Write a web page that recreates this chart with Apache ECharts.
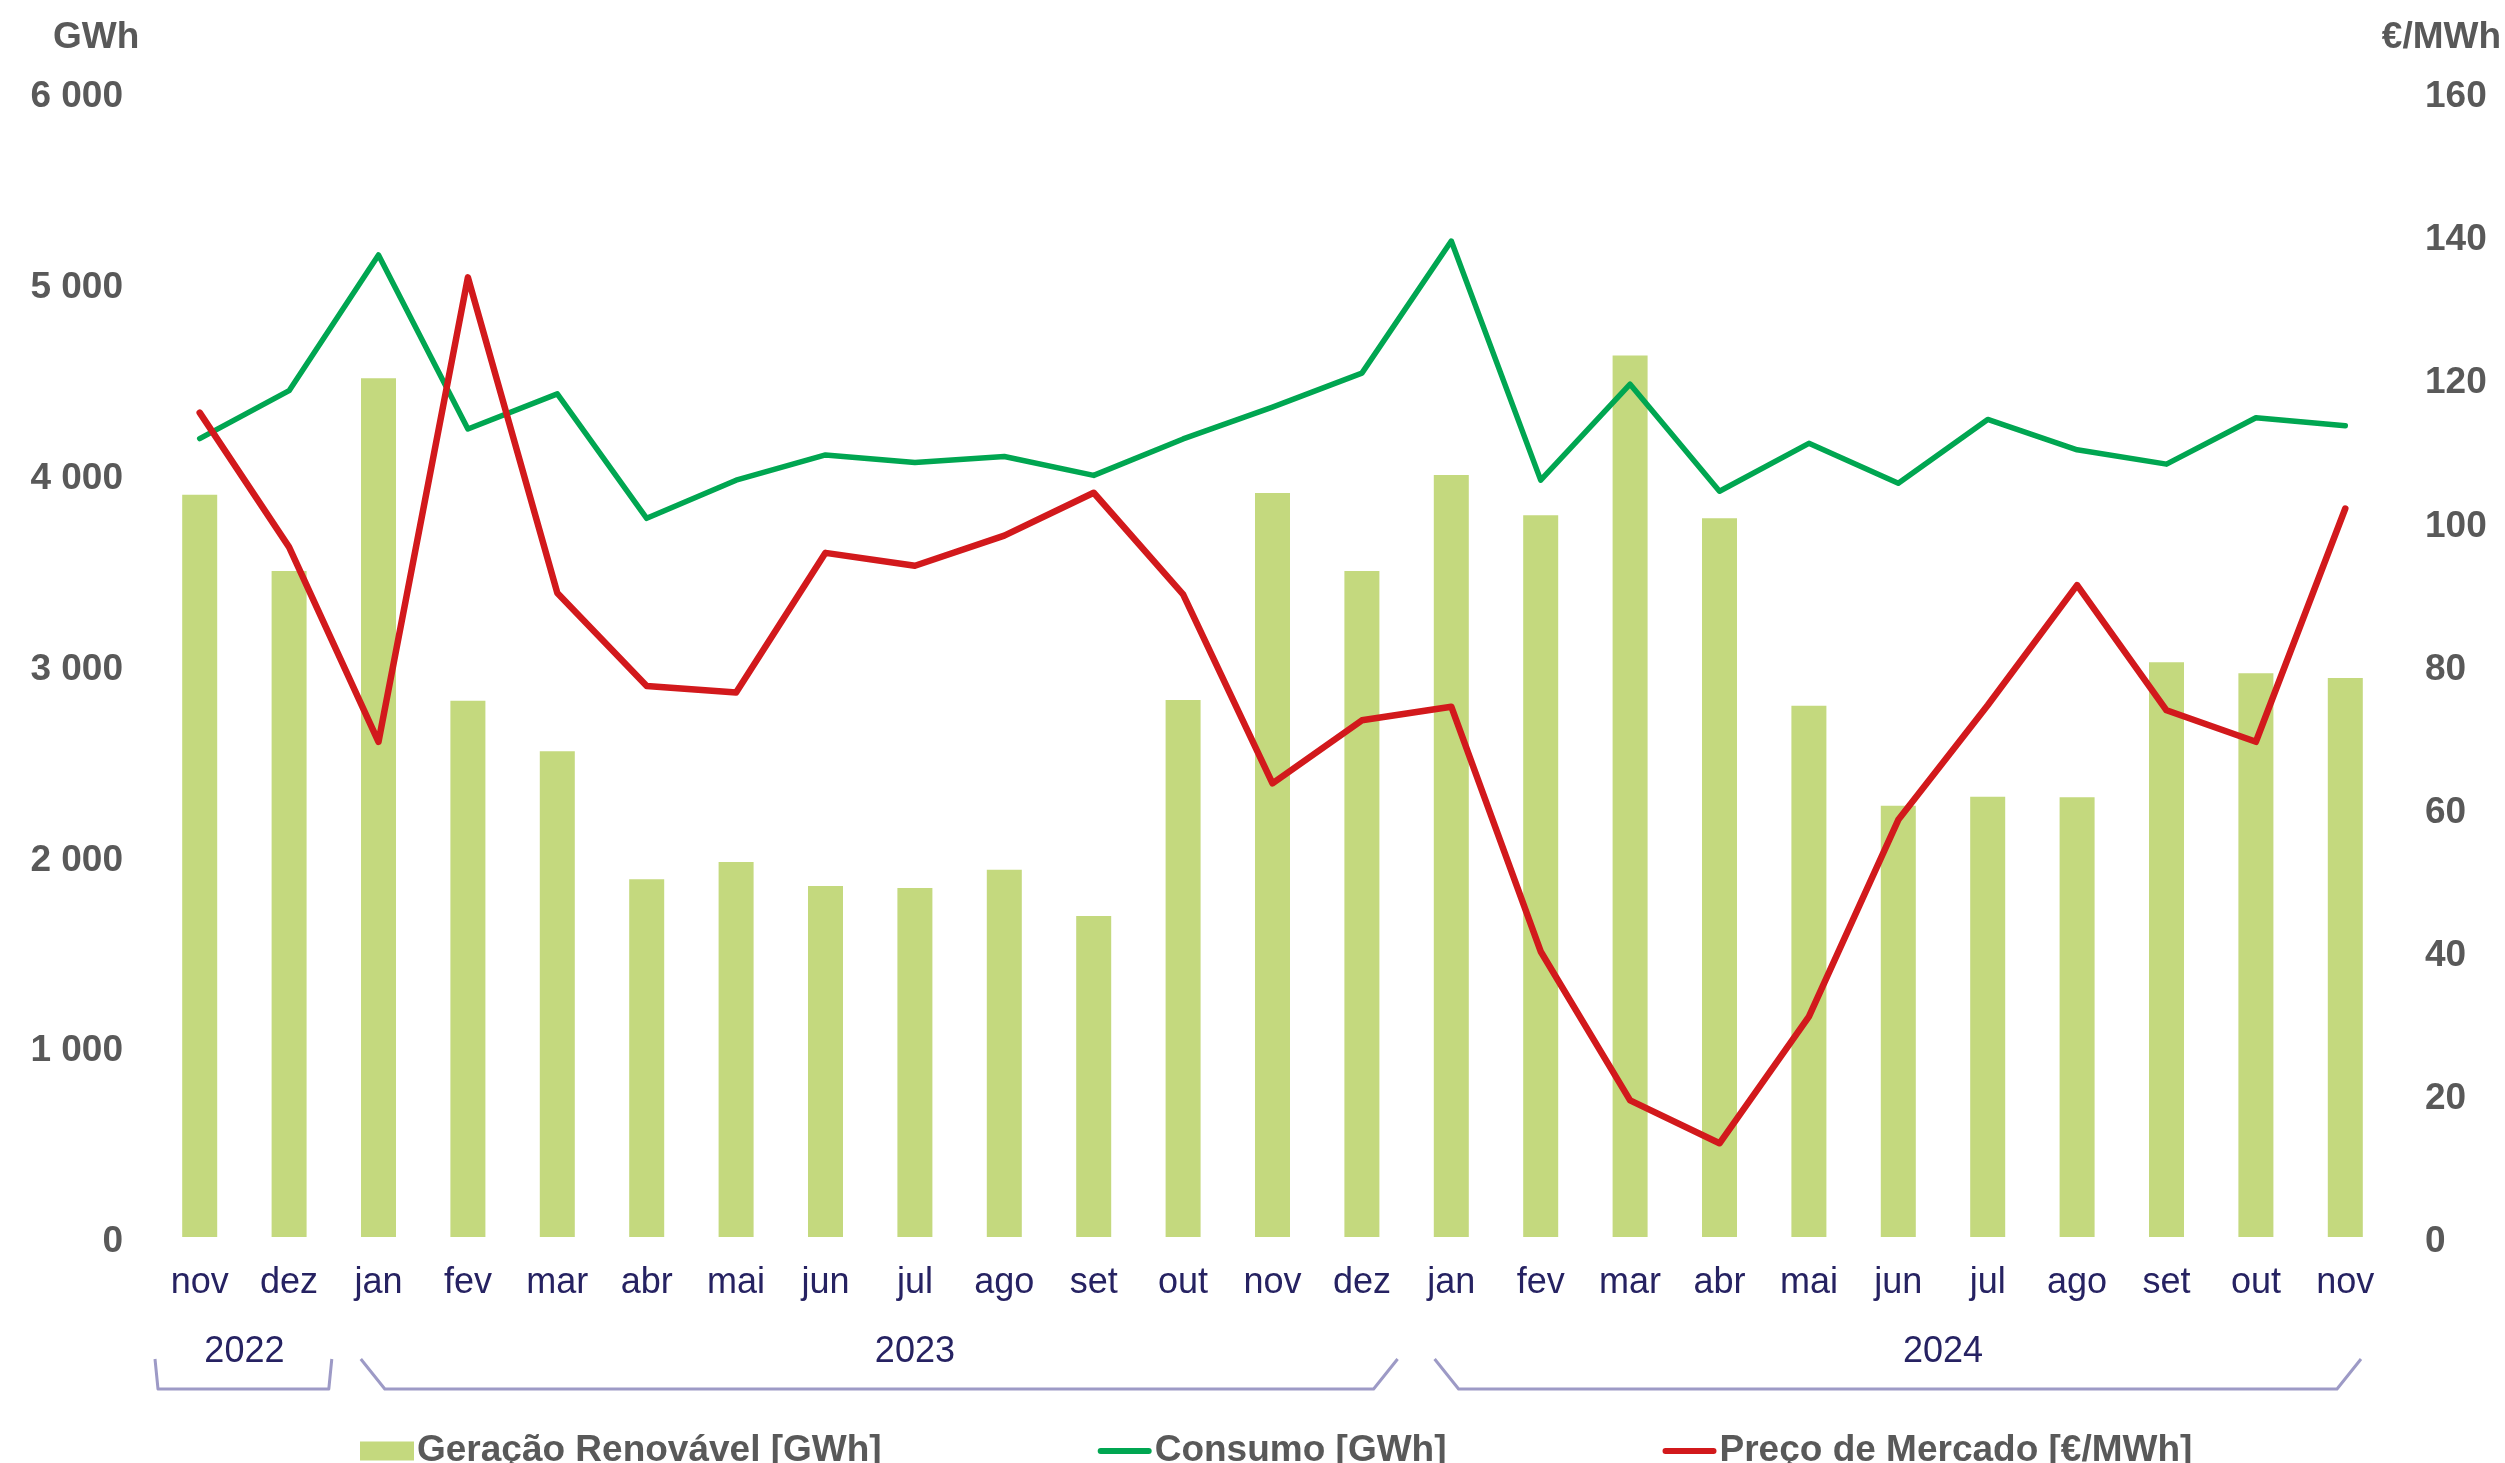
<!DOCTYPE html>
<html>
<head>
<meta charset="utf-8">
<script src="https://cdn.jsdelivr.net/npm/echarts@6/dist/echarts.min.js"></script>
<style>
html,body{margin:0;padding:0;background:#fff;}
#c{width:2505px;height:1463px;}
</style>
</head>
<body>
<div id="c"></div>
<script>
const months = ['nov','dez','jan','fev','mar','abr','mai','jun','jul','ago','set','out','nov','dez','jan','fev','mar','abr','mai','jun','jul','ago','set','out','nov'];
const years = ['2022','2023','2024'];
const renovavel = [3890, 3490, 4500, 2810, 2545, 1875, 1965, 1839, 1829, 1925, 1682, 2814, 3899, 3490, 3993, 3782, 4619, 3766, 2784, 2260, 2307, 2304, 3012, 2954, 2929];
const consumo = [4184, 4435, 5146, 4234, 4418, 3766, 3966, 4098, 4058, 4090, 3991, 4182, 4349, 4527, 5219, 3966, 4469, 3908, 4159, 3950, 4284, 4125, 4050, 4293, 4251];
const preco = [115.2, 96.4, 69.2, 134.1, 90.0, 77.0, 76.1, 95.6, 93.8, 98.0, 104.0, 89.8, 63.4, 72.2, 74.1, 39.9, 19.1, 13.1, 30.8, 58.3, 74.3, 91.1, 73.6, 69.2, 101.8];

const FONT = '"Liberation Sans", Arial, sans-serif';
const GRAY = '#595959';
const NAVY = '#262262';
const chart = echarts.init(document.getElementById('c'), null, {renderer:'canvas'});

const fmt = v => String(v).replace(/\B(?=(\d{3})+(?!\d))/g, ' ');
const lineIcon = 'path://M3,0 L51,0 A3,3 0 0 1 51,6 L3,6 A3,3 0 0 1 3,0 Z';
const tickRich = {a:{color:GRAY, fontSize:37, fontWeight:'bold', fontFamily:FONT, padding:[10,0,0,0]}};

chart.setOption({
  animation:false,
  backgroundColor:'#fff',
  textStyle:{fontFamily:FONT},
  grid:{left:155, right:115, top:92, bottom:226, containLabel:false},
  legend:{
    left:355, top:1426,
    itemWidth:54, itemHeight:19, itemGap:216,
    symbolKeepAspect:true,
    textStyle:{fontFamily:FONT, fontSize:37, fontWeight:'bold', color:GRAY, lineHeight:40, padding:[0,0,0,-2]},
    data:[
      {name:'Geração Renovável [GWh]', icon:'rect', itemStyle:{color:'#C4D97E'}},
      {name:'Consumo [GWh]', icon:lineIcon, itemStyle:{color:'#00A651'}},
      {name:'Preço de Mercado [€/MWh]', icon:lineIcon, itemStyle:{color:'#D2191C'}}
    ]
  },
  xAxis:{
    type:'category', data:months,
    axisLine:{show:false}, axisTick:{show:false}, splitLine:{show:false},
    axisLabel:{color:NAVY, fontSize:36, fontFamily:FONT, margin:28, interval:0}
  },
  yAxis:[
    {type:'value', min:0, max:6000, interval:1000,
     axisLine:{show:false}, axisTick:{show:false}, splitLine:{show:false},
     axisLabel:{margin:32, formatter:v => '{a|' + fmt(v) + '}', rich:tickRich}},
    {type:'value', min:0, max:160, interval:20,
     axisLine:{show:false}, axisTick:{show:false}, splitLine:{show:false},
     axisLabel:{margin:35, formatter:v => '{a|' + v + '}', rich:tickRich}}
  ],
  series:[
    {name:'Geração Renovável [GWh]', type:'bar', data:renovavel, yAxisIndex:0,
     barWidth:35, itemStyle:{color:'#C4D97E'}},
    {name:'Consumo [GWh]', type:'line', data:consumo, yAxisIndex:0,
     symbol:'none', lineStyle:{color:'#00A651', width:5.5, join:'round', cap:'round'}, itemStyle:{color:'#00A651'}},
    {name:'Preço de Mercado [€/MWh]', type:'line', data:preco, yAxisIndex:1,
     symbol:'none', lineStyle:{color:'#D2191C', width:6.5, join:'round', cap:'round'}, itemStyle:{color:'#D2191C'}}
  ]
});

const px = i => chart.convertToPixel({xAxisIndex:0}, i);
const band = px(1) - px(0);
const yTop = 1359, yBot = 1389, yTxt = 1352;
const lineStyle = {stroke:'#9D9AC6', lineWidth:3, fill:null, lineJoin:'round'};
function bracket(L, R, d){
  return {type:'polyline', shape:{points:[[L, yTop],[L+d, yBot],[R-d, yBot],[R, yTop]]}, style:lineStyle, silent:true};
}
const b1L = px(0) - band/2, b1R = px(1) + band/2 - 2;
const b2L = px(2) - band/2 + 27, b2R = px(13) + band/2 - 9;
const b3L = px(14) - band/2 + 28, b3R = px(24) + band/2 - 29;
const yearX = [(px(0)+px(1))/2, px(8), (px(19)+px(20))/2];
const graphics = [
  bracket(b1L, b1R, 3), bracket(b2L, b2R, 24), bracket(b3L, b3R, 24),
  {type:'text', left:53, top:19, style:{text:'GWh', font:'bold 37px '+FONT, fill:GRAY}},
  {type:'text', right:4, top:19, style:{text:'€/MWh', font:'bold 37px '+FONT, fill:GRAY}}
];
years.forEach((y, k) => {
  graphics.push({type:'text', x:yearX[k], y:yTxt, style:{text:y, font:'36px '+FONT, fill:NAVY, align:'center', verticalAlign:'middle'}});
});
chart.setOption({graphic:graphics});
</script>
</body>
</html>
